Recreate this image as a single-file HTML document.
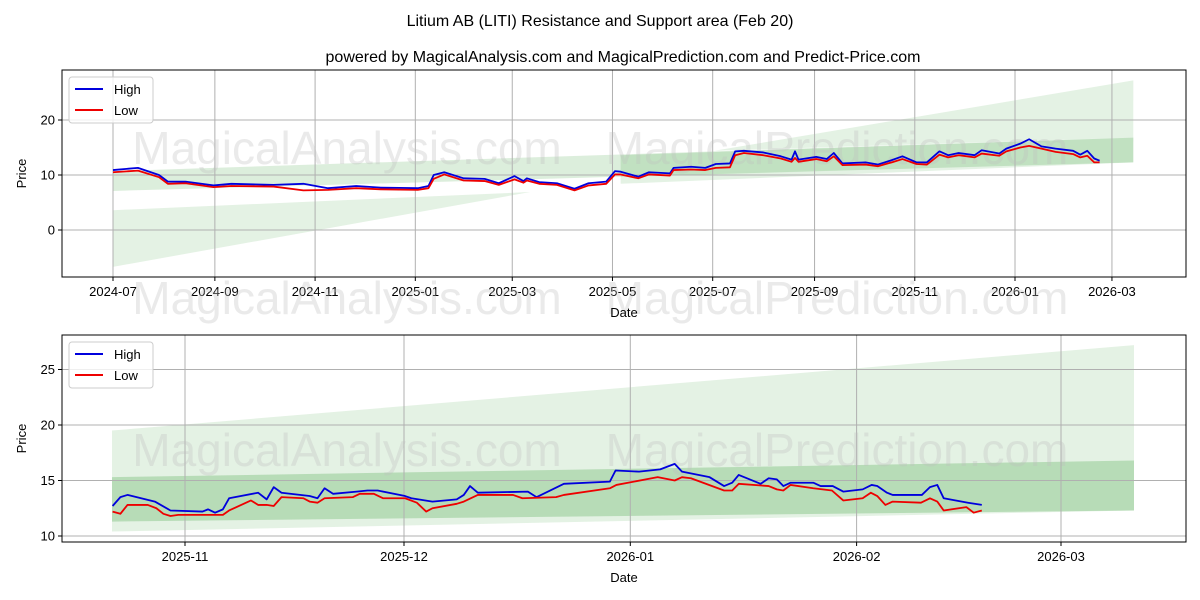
<!DOCTYPE html>
<html><head><meta charset="utf-8"><style>
body{margin:0;background:#fff;}
svg{display:block;font-family:"Liberation Sans","DejaVu Sans",sans-serif;}
</style></head><body>
<svg id="chart" width="1200" height="600" viewBox="0 0 1200 600" xmlns="http://www.w3.org/2000/svg">
<rect width="1200" height="600" fill="#fff"/>
<text x="600" y="26" text-anchor="middle" font-size="16">Litium AB (LITI) Resistance and Support area (Feb 20)</text>
<text x="623" y="62" text-anchor="middle" font-size="16">powered by MagicalAnalysis.com and MagicalPrediction.com and Predict-Price.com</text>
<g id="top"></g>
<g id="bot"></g>
</svg>
<script>
// ---- Top chart data (day offset from 2024-07-01) ----
const topDays = [0,15.2,28.0,33.4,44.1,61.2,72,97.7,115.9,130.9,148,163,185.5,192,195.2,201.6,213.4,226.2,234.8,244.4,249.8,251.9,259.4,270.2,280.9,289.4,300.2,305.5,309.0,319.7,326.2,339,341.2,351.9,360.5,366.9,375.5,378.7,384,395.8,406.5,413,415.1,417.2,428,434.4,438.7,444,458,465.5,474,480.5,489,495.4,503,508.3,514.7,524.4,528.7,539.4,543.7,552.2,557.6,565.1,573.7,584.4,588.7,593,597.2,600.5];
const topHigh = [10.9,11.3,10.0,8.8,8.8,8.1,8.4,8.2,8.4,7.6,8.0,7.7,7.6,8.0,10.0,10.5,9.4,9.3,8.5,9.8,8.9,9.4,8.7,8.5,7.5,8.5,8.8,10.7,10.6,9.7,10.5,10.3,11.3,11.5,11.3,12.0,12.1,14.3,14.4,14.1,13.4,12.8,14.3,12.8,13.3,12.9,14.0,12.1,12.3,11.9,12.7,13.4,12.3,12.3,14.3,13.6,14.0,13.6,14.5,13.9,14.8,15.7,16.5,15.2,14.8,14.4,13.7,14.4,13.0,12.6];
const topLow  = [10.5,10.8,9.6,8.4,8.5,7.8,8.0,7.9,7.2,7.3,7.6,7.4,7.3,7.6,9.3,10.1,9.0,8.9,8.2,9.2,8.6,9.0,8.4,8.2,7.2,8.1,8.4,10.1,10.1,9.4,10.1,9.9,10.9,11.0,10.9,11.3,11.4,13.6,14.0,13.6,13.0,12.4,13.1,12.4,12.9,12.5,13.4,11.8,11.9,11.6,12.3,12.9,12.0,11.9,13.7,13.2,13.6,13.2,13.9,13.5,14.3,15.0,15.3,14.8,14.2,13.8,13.2,13.5,12.3,12.3];
const topYTicks = [0,10,20];
const topXLabels = ["2024-07","2024-09","2024-11","2025-01","2025-03","2025-05","2025-07","2025-09","2025-11","2026-01","2026-03"];
const topXTickDays = [0,62,123,184,243,304,365,427,488,549,608];
// ---- Bottom chart data (day offset from 2025-11-01) ----
const botHighDays = [-9.92,-8.85,-7.88,-4.13,-1.99,2.4,3.15,4.12,5.19,6.04,10.01,11.19,12.15,13.22,17.08,18.15,19.12,20.3,23.51,25.01,26.4,30.15,31.01,33.9,37.22,38.19,39.04,40.11,46.97,48.15,51.9,58.2,58.98,62.2,65.09,67.08,68.08,71.86,73.85,74.96,75.85,78.85,79.96,81.07,81.96,82.96,86.07,87.07,88.73,90.17,92.83,94.06,94.83,96.16,96.94,100.94,102.05,103.05,103.93,107.26,109.15];
const botHigh = [12.7,13.5,13.7,13.1,12.3,12.2,12.4,12.1,12.4,13.4,13.9,13.3,14.4,13.9,13.6,13.4,14.3,13.8,14.0,14.1,14.1,13.6,13.4,13.1,13.3,13.7,14.5,13.9,14.0,13.5,14.7,14.9,15.9,15.8,16.0,16.5,15.8,15.3,14.5,14.8,15.5,14.7,15.2,15.1,14.5,14.8,14.8,14.5,14.5,14.0,14.2,14.6,14.5,13.9,13.7,13.7,14.4,14.6,13.4,13.0,12.8];
const botLowDays = [-9.92,-8.85,-7.88,-5.1,-3.92,-2.96,-1.99,-0.92,5.19,6.04,9.04,10.01,11.19,12.15,13.22,16.22,17.08,18.15,19.12,22.97,23.94,25.87,27.15,30.15,31.76,33.04,33.9,37.22,38.19,40.11,44.94,46.22,50.83,51.9,58.2,59.09,64.75,67.08,68.08,69.3,73.85,74.96,75.85,79.96,81.07,81.96,82.96,86.07,88.62,90.17,92.83,93.94,94.83,95.94,96.94,100.82,102.05,103.05,103.93,107.04,108.04,109.15];
const botLow = [12.2,12.0,12.8,12.8,12.5,12.0,11.8,11.9,11.9,12.3,13.2,12.8,12.8,12.7,13.5,13.4,13.1,13.0,13.4,13.5,13.8,13.8,13.4,13.4,13.0,12.2,12.5,12.9,13.1,13.7,13.7,13.4,13.5,13.7,14.3,14.6,15.3,15.0,15.3,15.2,14.1,14.1,14.7,14.5,14.2,14.1,14.6,14.3,14.1,13.2,13.4,13.9,13.6,12.8,13.1,13.0,13.4,13.1,12.3,12.6,12.1,12.3];
const botYTicks = [10,15,20,25];
const botXLabels = ["2025-11","2025-12","2026-01","2026-02","2026-03"];
const botXTickDays = [0,30,61,92,120];

const NS="http://www.w3.org/2000/svg";
function mk(parent,tag,attrs){const e=document.createElementNS(NS,tag);for(const k in attrs)e.setAttribute(k,attrs[k]);parent.appendChild(e);return e;}

function panel(g,o){
  const X=d=>o.x0+(d-o.d0)*o.pxd, Y=v=>o.yv0-(v-o.v0)*o.pxv;
  o.bands.forEach(b=>{
    const pts=b.upper.map(p=>X(p[0])+","+Y(p[1])).concat(b.lower.slice().reverse().map(p=>X(p[0])+","+Y(p[1]))).join(" ");
    const pg=mk(g,"polygon",{points:pts,fill:b.fill});
    
    
  });
  o.yticks.forEach(v=>{
    const y=Y(v);
    const l=mk(g,"line",{x1:o.L,x2:o.R,y1:y,y2:y,stroke:"#b0b0b0","stroke-width":1});
    
    
    mk(g,"line",{x1:o.L-4,x2:o.L,y1:y,y2:y,stroke:"#000"});
    const t=mk(g,"text",{x:o.L-7,y:y+4.5,"text-anchor":"end","font-size":13});t.textContent=v;
    
    
  });
  o.xdays.forEach((d,i)=>{
    const x=X(d);
    const l=mk(g,"line",{x1:x,x2:x,y1:o.T,y2:o.B,stroke:"#b0b0b0","stroke-width":1});
    
    
    mk(g,"line",{x1:x,x2:x,y1:o.B,y2:o.B+4,stroke:"#000"});
    const t=mk(g,"text",{x:x,y:o.B+19,"text-anchor":"middle","font-size":13});t.textContent=o.xlabels[i];
    
    
  });
  o.wm.forEach(w=>{
    const t=mk(g,"text",{x:w[1],y:w[2],"text-anchor":"middle","font-size":46,fill:"rgba(190,190,190,0.33)"});t.textContent=w[0];
    
    
  });
  const hp=mk(g,"polyline",{points:o.hd.map((d,i)=>X(d)+","+Y(o.hv[i])).join(" "),fill:"none",stroke:"#0000dd","stroke-width":1.8,"stroke-linejoin":"round"});
  
  
  const lp=mk(g,"polyline",{points:o.ld.map((d,i)=>X(d)+","+Y(o.lv[i])).join(" "),fill:"none",stroke:"#ee0000","stroke-width":1.8,"stroke-linejoin":"round"});
  
  
  const fr=mk(g,"rect",{x:o.L,y:o.T,width:o.R-o.L,height:o.B-o.T,fill:"none",stroke:"#000","stroke-width":1});
  
  
  const yl=mk(g,"text",{x:0,y:0,transform:`translate(26,${(o.T+o.B)/2}) rotate(-90)`,"text-anchor":"middle","font-size":13});yl.textContent="Price";
  
  
  const xl=mk(g,"text",{x:(o.L+o.R)/2,y:o.B+40,"text-anchor":"middle","font-size":13});xl.textContent="Date";
  
  
  const lg=mk(g,"g",{});
  
  
  mk(lg,"rect",{x:o.L+7,y:o.T+7,width:84,height:46,rx:3,fill:"rgba(255,255,255,0.8)",stroke:"#ccc"});
  mk(lg,"line",{x1:o.L+13,x2:o.L+41,y1:o.T+19,y2:o.T+19,stroke:"#0000dd","stroke-width":2});
  mk(lg,"line",{x1:o.L+13,x2:o.L+41,y1:o.T+40,y2:o.T+40,stroke:"#ee0000","stroke-width":2});
  const t1=mk(lg,"text",{x:o.L+52,y:o.T+24,"font-size":13});t1.textContent="High";
  
  
  const t2=mk(lg,"text",{x:o.L+52,y:o.T+45,"font-size":13});t2.textContent="Low";
  
  
}

const light="rgba(120,190,120,0.2)";
panel(document.getElementById("top"),{
  L:62,R:1186,T:70,B:277,x0:113,d0:0,pxd:1.643,yv0:230,v0:0,pxv:5.5,
  yticks:topYTicks,xdays:topXTickDays,xlabels:topXLabels,
  hd:topDays,hv:topHigh,ld:topDays,lv:topLow,
  wm:[["MagicalAnalysis.com",347,164],["MagicalPrediction.com",837,164],["MagicalAnalysis.com",347,314],["MagicalPrediction.com",837,314]],
  bands:[
    {upper:[[0,3.6],[254,6.9]],lower:[[0,-6.7],[254,6.9]],fill:light},
    {upper:[[0,10.7],[621,16.8]],lower:[[0,7.1],[621,12.3]],fill:"rgba(110,185,110,0.24)"},
    {upper:[[366,14.4],[621,27.2]],lower:[[366,14.4],[621,16.8]],fill:light},
    {upper:[[309,9.6],[621,12.3]],lower:[[309,8.4],[621,12.3]],fill:light},
    {upper:[[309,13.6],[621,16.8]],lower:[[309,9.6],[621,12.3]],fill:"rgba(100,180,100,0.22)"}
  ]
});
panel(document.getElementById("bot"),{
  L:62,R:1186,T:335,B:542,x0:185,d0:0,pxd:7.3,yv0:536,v0:10,pxv:11.1,
  yticks:botYTicks,xdays:botXTickDays,xlabels:botXLabels,
  hd:botHighDays,hv:botHigh,ld:botLowDays,lv:botLow,
  wm:[["MagicalAnalysis.com",347,466],["MagicalPrediction.com",837,466]],
  bands:[
    {upper:[[-10,19.5],[130,27.2]],lower:[[-10,10.4],[130,12.3]],fill:light},
    {upper:[[-10,15.3],[130,16.8]],lower:[[-10,11.3],[130,12.3]],fill:"rgba(100,180,100,0.35)"}
  ]
});
</script>
</body></html>
